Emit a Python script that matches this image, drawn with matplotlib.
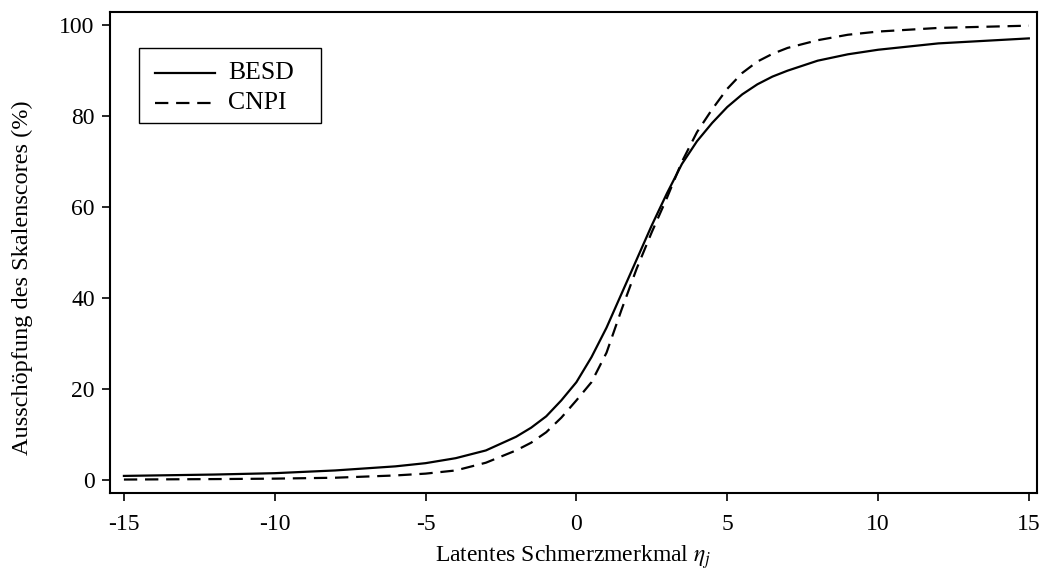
import matplotlib
matplotlib.use("Agg")
import matplotlib.pyplot as plt
from matplotlib.patches import Rectangle

plt.rcParams["font.family"] = ["Liberation Serif", "DejaVu Serif"]
plt.rcParams["mathtext.fontset"] = "stix"

# values (eta, percent of scale score)
besd_eta = [-15, -12, -10, -8, -6, -5, -4, -3, -2, -1.5, -1, -0.5, 0, 0.5, 1, 1.5,
            2, 2.5, 3, 3.5, 4, 4.5, 5, 5.5, 6, 6.5, 7, 8, 9, 10, 12, 15]
besd_pct = [0.9, 1.2, 1.5, 2.1, 3.0, 3.7, 4.8, 6.5, 9.5, 11.5, 14.0, 17.5, 21.5,
            27.0, 33.5, 41.0, 48.5, 56.0, 63.0, 69.5, 74.5, 78.5, 82.0, 84.8,
            87.0, 88.7, 90.0, 92.2, 93.6, 94.6, 96.0, 97.1]

cnpi_eta = [-15, -12, -10, -8, -6, -5, -4, -3, -2, -1.5, -1, -0.5, 0, 0.5, 1, 1.5,
            2, 2.5, 3, 3.5, 4, 4.5, 5, 5.5, 6, 6.5, 7, 8, 9, 10, 12, 15]
cnpi_pct = [0.1, 0.2, 0.3, 0.5, 1.0, 1.4, 2.1, 3.8, 6.5, 8.2, 10.5, 13.7, 17.5,
            21.5, 28.0, 37.5, 46.5, 54.5, 62.0, 70.0, 76.5, 81.5, 86.0, 89.5,
            92.0, 93.7, 95.0, 96.7, 97.9, 98.6, 99.4, 99.9]

series_names = ["BESD", "CNPI"]
x_ticks = [-15, -10, -5, 0, 5, 10, 15]
y_ticks = [0, 20, 40, 60, 80, 100]

DASH = (0, (6, 3.5))

fig = plt.figure(figsize=(10.5, 5.72), dpi=100)
ax = fig.add_axes([0.1048, 0.1381, 0.8828, 0.8409])

ax.plot(besd_eta, besd_pct, color="black", linewidth=1.6)
ax.plot(cnpi_eta, cnpi_pct, color="black", linewidth=1.6, linestyle=DASH)

ax.set_xlim(-15.46, 15.27)
ax.set_ylim(-2.86, 102.9)
ax.set_xticks(x_ticks)
ax.set_xticklabels([str(v) for v in x_ticks])
ax.set_yticks(y_ticks)
ax.tick_params(direction="out", length=6, width=1.2, labelsize=17, pad=5)
ax.tick_params(axis="x", pad=9)
for s in ax.spines.values():
    s.set_linewidth(1.5)

ax.set_xlabel(r"Latentes Schmerzmerkmal $\eta_j$", fontsize=17)
ax.xaxis.set_label_coords(0.5, -0.105)
ax.set_ylabel("Ausschöpfung des Skalenscores (%)", fontsize=17.5)
ax.yaxis.set_label_coords(-0.083, 0.447)

# R-style legend box, drawn by hand in axes coordinates
ax.add_patch(Rectangle((0.0313, 0.7692), 0.1963, 0.156, transform=ax.transAxes,
                       facecolor="white", edgecolor="black", linewidth=1.0, zorder=3))
for name, ls, yy in zip(series_names, ["-", DASH], [0.8732, 0.8108]):
    ax.plot([0.0486, 0.1133], [yy, yy], transform=ax.transAxes, color="black",
            linewidth=1.6, linestyle=ls, zorder=4)
    ax.text(0.1273, yy, name, transform=ax.transAxes, fontsize=18.5,
            va="center", ha="left", zorder=4)

fig.savefig("out.png", dpi=100, facecolor="white")
